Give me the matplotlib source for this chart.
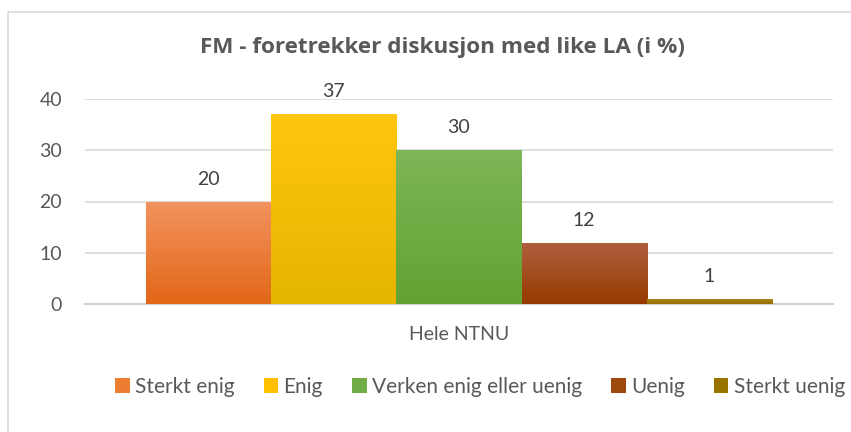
import matplotlib.pyplot as plt
import numpy as np
from matplotlib.colors import LinearSegmentedColormap
from matplotlib.patches import Rectangle

plt.rcParams["font.family"] = ["Lato", "DejaVu Sans"]

categories = ["Hele NTNU"]
series = ["Sterkt enig", "Enig", "Verken enig eller uenig", "Uenig", "Sterkt uenig"]
values = [20, 37, 30, 12, 1]
yticks = [0, 10, 20, 30, 40]

# top / bottom colours of each bar gradient
top_colors = ["#F2935E", "#FFC60F", "#7DB756", "#B0603F", "#AD8A1A"]
bottom_colors = ["#E26718", "#E5B500", "#62A133", "#963A00", "#967000"]
base_colors = ["#ED7D31", "#FFC000", "#70AD47", "#9E480E", "#997300"]

fig = plt.figure(figsize=(8.51, 4.32), dpi=100)
fig.patches.append(Rectangle((8 / 851, -10 / 432), 860 / 851, 430 / 432, transform=fig.transFigure,
                             fill=False, edgecolor="#D9D9D9", linewidth=1.2))

ax = fig.add_axes([85 / 851, 128 / 432, 748 / 851, 205 / 432])

w = 626 / 748 / len(values)
grad = np.linspace(0, 1, 256).reshape(-1, 1)
for i, (name, v) in enumerate(zip(series, values)):
    x = (i - (len(values) - 1) / 2) * w
    bar = ax.bar(x, v, width=w, color=base_colors[i], label=name, zorder=2, linewidth=0)[0]
    cmap = LinearSegmentedColormap.from_list("g%d" % i, [bottom_colors[i], top_colors[i]])
    im = ax.imshow(grad, cmap=cmap, aspect="auto", origin="lower",
                   extent=(x - w / 2, x + w / 2, 0, v), zorder=3)
    im.set_clip_path(bar)
    ax.annotate(str(v), (x, v), xytext=(0, 10), textcoords="offset points",
                ha="center", va="bottom", fontsize=14, color="#404040")

ax.set_xlim(-0.5, 0.5)
ax.set_ylim(0, 40)
ax.set_yticks(yticks)
ax.set_xticks([0])
ax.set_xticklabels(categories)
ax.tick_params(axis="both", length=0, labelsize=14, colors="#595959")
ax.tick_params(axis="x", pad=16)
ax.tick_params(axis="y", pad=16.5)
ax.grid(axis="y", color="#D9D9D9", linewidth=1.2, zorder=0)
ax.set_axisbelow(True)
for s in ["top", "right", "left"]:
    ax.spines[s].set_visible(False)
ax.spines["bottom"].set_color("#D0D0D0")
ax.spines["bottom"].set_linewidth(1.5)

fig.text(442 / 851, 1 - 48 / 432, "FM - foretrekker diskusjon med like LA (i %)", ha="center", va="center",
         fontsize=16.2, fontweight="bold", color="#595959", family=["Open Sans", "DejaVu Sans"])

handles, labels = ax.get_legend_handles_labels()
fig.legend(handles, labels, loc="center", bbox_to_anchor=(480 / 851, 1 - 387 / 432), ncol=5, frameon=False,
           fontsize=15, labelcolor="#595959", handlelength=0.7, handleheight=0.7,
           handletextpad=0.25, columnspacing=1.4, borderaxespad=0)

fig.savefig("out.png", dpi=100)
